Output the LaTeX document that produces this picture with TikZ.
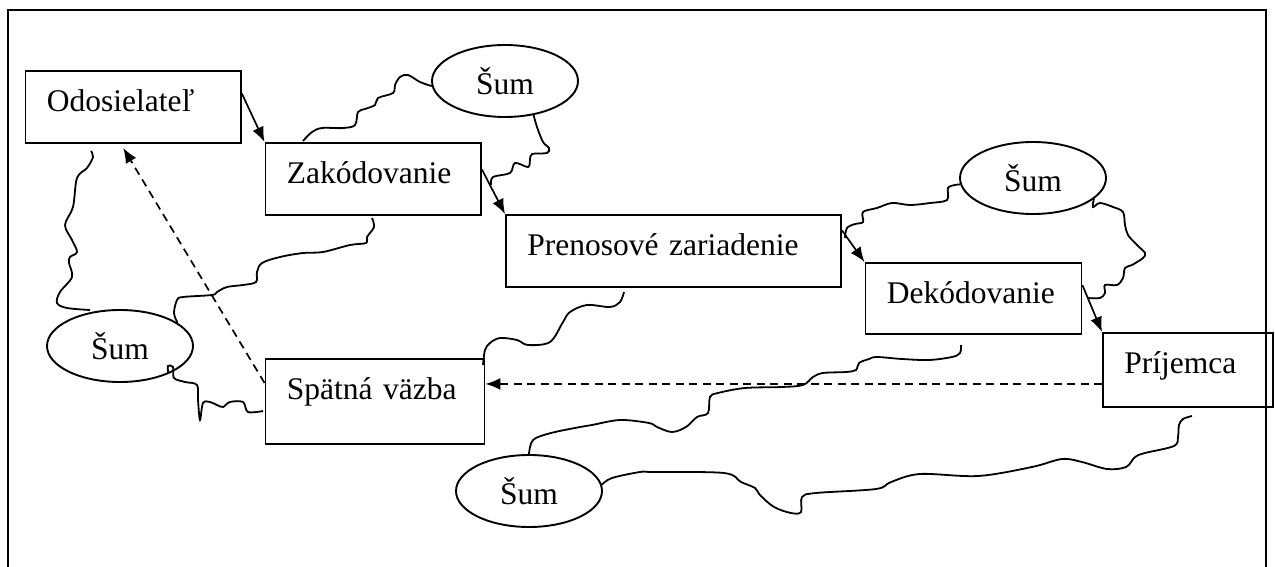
\documentclass[tikz,border=0pt]{standalone}
\usepackage{fontspec}
\setmainfont{Liberation Serif}
\usepackage{tikz}
\usetikzlibrary{arrows.meta, shapes.geometric}
\newcommand{\diagfont}{\fontsize{31.5pt}{38pt}\selectfont}

\begin{document}
\begin{tikzpicture}[
  x=1pt, y=-1pt,
  stagebox/.style={
    draw, line width=1.9pt, anchor=north west, inner xsep=21.5pt,
    inner ysep=0pt, text height=41pt, align=left, font=\diagfont
  },
  sumnode/.style={
    draw, ellipse, line width=1.9pt, minimum width=146pt,
    minimum height=72pt, inner sep=0pt, font=\diagfont
  },
  flow/.style={-{Latex[length=15pt,width=12pt]}, line width=1.7pt},
  fback/.style={flow, dash pattern=on 8pt off 5.5pt},
  noise/.style={line width=1.8pt, smooth, tension=0.55}
]
\useasboundingbox (0,0) rectangle (1275,567);

% frame
\draw[line width=2.8pt] (8,567) -- (8,10) -- (1266,10) -- (1266,567);

% stages
\node[stagebox, text width=172.5pt, text depth=31pt] (odos) at (24.5,70) {Odosielateľ};
\node[stagebox, text width=172.5pt, text depth=31pt] (zak) at (264.5,142) {Zakódovanie};
\node[stagebox, text width=292pt, text depth=31pt] (pren) at (505,214) {Prenosové zariadenie};
\node[stagebox, text width=173pt, text depth=30pt] (dek) at (864.5,262) {Dekódovanie};
\node[stagebox, text width=127pt, text depth=33pt] (prij) at (1102,332) {Príjemca};
\node[stagebox, text width=176pt, text depth=44pt] (spat) at (264.5,358) {Spätná väzba};

% noise
\node[sumnode] (sumtop) at (505,81) {Šum};
\node[sumnode] (sumright) at (1033,178) {Šum};
\node[sumnode] (sumleft) at (120,346) {Šum};
\node[sumnode] (sumbottom) at (529,491) {Šum};

% main flow
\draw[flow] (odos.7) -- (zak.north west);
\draw[flow] (zak.5) -- (pren.north west);
\draw[flow] (pren.7) -- (dek.north west);
\draw[flow] (dek.7) -- (prij.north west);

% feedback
\draw[fback] ([yshift=-14pt]prij.west) -- ([yshift=17.5pt]spat.east);
\draw[fback] ([yshift=18.5pt]spat.west) -- ([xshift=-10pt,yshift=-4pt]odos.south);

% wavy noise lines
\draw[noise] plot coordinates {(303,141) (312,132) (322,128) (343,128) (355,125)
  (358,112) (365,109) (375,105) (378,98) (393,93) (395,85) (400,77) (408,75)
  (420,82) (sumtop.184)};
\draw[noise] plot coordinates {(sumtop.-50) (537,127) (543,142) (549,148) (547,153)
  (532,154) (530,160) (528,167) (515,163) (510,173) (493,177) (491,185)};
\draw[noise] plot coordinates {(91,151) (93,157) (87,168) (77,178) (73,207) (65,225)
  (72,240) (77,252) (70,257) (69,263) (72,277) (60,292) (57,303) (67,308) (90,310)};
\draw[noise] plot coordinates {(372,218) (374,227) (367,237) (366,243) (350,245)
  (323,252) (303,253) (280,257) (262,263) (257,272) (256,282) (243,285) (227,287)
  (217,292) (212,295) (183,297) (177,300) (174,313) (sumleft.22)};
\draw[noise] plot coordinates {(sumleft.-30) (168,366) (173,367) (174,378) (185,382)
  (197,385) (198,400) (200,420) (203,403) (210,402) (217,405) (223,407) (230,402)
  (243,402) (248,412) (263,411)};
\draw[noise] plot coordinates {(624,292) (620,302) (610,307) (587,305) (570,312)
  (563,322) (550,342) (528,345) (517,340) (500,338) (490,343) (485,350) (483,365)};
\draw[noise] plot coordinates {(sumright.185) (955,185) (948,188) (947,200) (930,203)
  (910,205) (892,203) (877,208) (863,212) (863,222) (855,224) (847,228) (845,238)};
\draw[noise] plot coordinates {(sumright.-19) (1093,207) (1100,203) (1113,207)
  (1123,212) (1125,225) (1128,235) (1137,245) (1145,253) (1143,258) (1132,265)
  (1125,268) (1123,278) (1117,285) (1105,285) (1105,293) (1100,298) (1088,298)};
\draw[noise] plot coordinates {(961,345) (960,353) (952,357) (929,360) (902,359)
  (877,357) (869,359) (859,363) (856,370) (846,372) (823,373) (813,377) (803,385)
  (782,387) (745,388) (718,393) (710,397) (708,413) (697,417) (686,427) (672,432)
  (657,427) (649,423) (620,420) (592,425) (580,427) (551,433) (533,440)
  (sumbottom.north)};
\draw[noise] plot coordinates {(sumbottom.5) (612,478) (640,472) (653,472) (724,473)
  (741,482) (755,488) (760,495) (774,507) (791,513) (801,512) (802,497) (816,493)
  (876,489) (891,482) (920,474) (978,476) (1032,467) (1062,459) (1082,462)
  (1107,469) (1126,467) (1135,457) (1145,453) (1174,446) (1178,437) (1179,425)
  (1183,419) (1192,416)};

\end{tikzpicture}
\end{document}
